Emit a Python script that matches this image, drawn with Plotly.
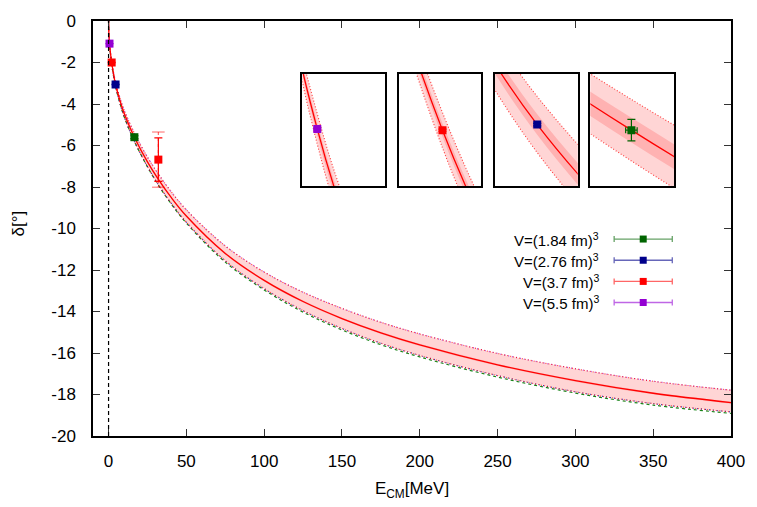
import plotly.graph_objects as go

# ---------------- data ----------------
energy = [0, 0.25, 0.6, 1, 2, 3, 4.5, 7, 10, 16.6, 25, 32, 40, 50, 75, 100,
          125, 150, 175, 200, 250, 300, 350, 400]
delta_center = [0, -0.70, -1.09, -1.41, -2.00, -2.47, -3.06, -3.75, -4.45, -5.60,
                -6.79, -7.63, -8.48, -9.40, -11.20, -12.50, -13.52, -14.34, -15.03,
                -15.61, -16.57, -17.33, -17.94, -18.39]
delta_upper = [0, -0.67, -1.04, -1.35, -1.92, -2.38, -2.95, -3.62, -4.29, -5.40,
               -6.56, -7.37, -8.20, -9.10, -10.84, -12.10, -13.07, -13.85, -14.52,
               -15.08, -16.02, -16.76, -17.36, -17.79]
delta_lower = [0, -0.73, -1.14, -1.47, -2.08, -2.56, -3.17, -3.88, -4.61, -5.80,
               -7.02, -7.89, -8.76, -9.70, -11.56, -12.90, -13.96, -14.82, -15.53,
               -16.12, -17.09, -17.87, -18.44, -18.84]
delta_lower_green = [0, -0.73, -1.14, -1.47, -2.08, -2.56, -3.17, -3.88, -4.61, -5.80,
                     -7.03, -7.91, -8.79, -9.74, -11.62, -12.96, -14.03, -14.89, -15.60,
                     -16.19, -17.16, -17.93, -18.51, -18.91]
delta_inner_upper = [0, -0.688, -1.07, -1.386, -1.97, -2.435, -3.02, -3.70, -4.39, -5.52,
                     -6.72, -7.57, -8.43, -9.35, -11.15, -12.45, -13.47, -14.29, -14.98,
                     -15.56, -16.52, -17.28, -17.89, -18.34]
delta_inner_lower = [0, -0.712, -1.11, -1.434, -2.03, -2.505, -3.10, -3.80, -4.51, -5.68,
                     -6.86, -7.69, -8.53, -9.45, -11.25, -12.55, -13.57, -14.39, -15.08,
                     -15.66, -16.62, -17.38, -17.99, -18.44]

# lattice points
point_E = [0.6, 2.0, 4.5, 16.6, 32.0]
point_delta = [-1.09, -2.00, -3.06, -5.60, -6.68]
point_E_err = [0.005, 0.01, 0.01, 0.15, 0.3]
point_delta_err = [0.003, 0.005, 0.005, 0.07, 1.05]
point_delta_err_tot = [0.0, 0.0, 0.0, 0.0, 1.33]
point_colors = ["#9400d3", "#ff0000", "#00008b", "#006400", "#ff0000"]

legend_labels = ["V=(1.84 fm)<sup>3</sup>", "V=(2.76 fm)<sup>3</sup>",
                 "V=(3.7 fm)<sup>3</sup>", "V=(5.5 fm)<sup>3</sup>"]
legend_colors = ["#006400", "#00008b", "#ff0000", "#9400d3"]
legend_line_colors = ["rgba(0,100,0,0.6)", "rgba(0,0,139,0.6)",
                      "rgba(255,0,0,0.6)", "rgba(148,0,211,0.6)"]

x_ticks = [0, 50, 100, 150, 200, 250, 300, 350, 400]
x_ticklabels = ["0", "50", "100", "150", "200", "250", "300", "350", "400"]
y_ticks = [-20, -18, -16, -14, -12, -10, -8, -6, -4, -2, 0]
y_ticklabels = ["-20", "-18", "-16", "-14", "-12", "-10", "-8", "-6", "-4", "-2", "0"]

x_title = "E<sub>CM</sub>[MeV]"
y_title = "δ[°]"

threshold_E = 0

# inset windows (E range, delta range)
inset_x_ranges = [[0.401, 1.506], [1.02, 2.87], [3.84, 5.13], [15.53, 17.71]]
inset_y_ranges = [[-1.279, -0.909], [-2.255, -1.745], [-3.302, -2.862], [-5.965, -5.235]]

# ---------------- figure ----------------
W, H = 757, 507
ML, MR, MT, MB = 93, 23, 15, 67
PW, PH = W - ML - MR, H - MT - MB
FONT = "Liberation Sans, Arial, sans-serif"

OUTER_FILL = "rgb(255,213,213)"
INNER_FILL = "rgb(255,178,178)"

fig = go.Figure()


def add_curves(xa, ya, main):
    common = dict(xaxis=xa, yaxis=ya, hoverinfo="skip", showlegend=False)
    fig.add_trace(go.Scatter(x=energy, y=delta_lower, mode="lines",
                             line=dict(width=0, shape="spline"), **common))
    fig.add_trace(go.Scatter(x=energy, y=delta_upper, mode="lines", fill="tonexty",
                             fillcolor=OUTER_FILL,
                             line=dict(width=0, shape="spline"), **common))
    fig.add_trace(go.Scatter(x=energy, y=delta_inner_lower, mode="lines",
                             line=dict(width=0, shape="spline"), **common))
    fig.add_trace(go.Scatter(x=energy, y=delta_inner_upper, mode="lines", fill="tonexty",
                             fillcolor=INNER_FILL,
                             line=dict(width=0, shape="spline"), **common))
    if main:
        fig.add_trace(go.Scatter(x=energy, y=delta_lower_green, mode="lines",
                                 line=dict(width=1.2, color="rgba(0,120,0,0.9)", dash="dot", shape="spline"),
                                 **common))
        fig.add_trace(go.Scatter(x=energy, y=delta_lower, mode="lines",
                                 line=dict(width=1.2, color="rgba(0,0,160,0.8)", dash="1px,3px", shape="spline"),
                                 **common))
        fig.add_trace(go.Scatter(x=energy, y=delta_upper, mode="lines",
                                 line=dict(width=1.2, color="rgba(148,0,211,0.7)", dash="1px,3px", shape="spline"),
                                 **common))
    fig.add_trace(go.Scatter(x=energy, y=delta_lower, mode="lines",
                             line=dict(width=1.1, color="rgba(255,0,0,0.75)", dash="1px,2px", shape="spline"),
                             **common))
    fig.add_trace(go.Scatter(x=energy, y=delta_upper, mode="lines",
                             line=dict(width=1.1, color="rgba(255,0,0,0.75)", dash="1px,2px", shape="spline"),
                             **common))
    fig.add_trace(go.Scatter(x=energy, y=delta_center, mode="lines",
                             line=dict(width=1.3, color="#ff0000", shape="spline"), **common))
    # points
    for i in range(len(point_E)):
        if point_delta_err_tot[i] > 0:
            fig.add_trace(go.Scatter(
                x=[point_E[i], point_E[i]],
                y=[point_delta[i] + point_delta_err_tot[i], point_delta[i] - point_delta_err_tot[i]],
                mode="lines+markers",
                line=dict(width=1.2, color="rgba(255,0,0,0.6)", dash="dot"),
                marker=dict(symbol="line-ew", size=9,
                            line=dict(width=1.2, color="rgba(255,0,0,0.5)")),
                **common))
        fig.add_trace(go.Scatter(
            x=[point_E[i]], y=[point_delta[i]], mode="markers",
            marker=dict(symbol="square", size=8, color=point_colors[i]),
            error_x=dict(type="data", array=[point_E_err[i]], color=point_colors[i],
                         thickness=1.2, width=3),
            error_y=dict(type="data", array=[point_delta_err[i]], color=point_colors[i],
                         thickness=1.2, width=4),
            **common))


add_curves("x", "y", True)

# insets: box positions in pixels (left, right, top, bottom)
inset_boxes = [(303.3, 386.7, 69.3, 184.3), (400.0, 483.3, 69.3, 184.3),
               (496.7, 580.0, 69.3, 184.3), (592.7, 676.7, 69.3, 184.3)]
for k, (l, r, t, b) in enumerate(inset_boxes):
    n = k + 2
    xd = [(l - ML) / PW, (r - ML) / PW]
    yd = [(MT + PH - b) / PH, (MT + PH - t) / PH]
    fig.update_layout(**{
        f"xaxis{n}": dict(domain=xd, anchor=f"y{n}", range=inset_x_ranges[k],
                          showticklabels=False, ticks="", showgrid=False, zeroline=False,
                          showline=True, linecolor="black", linewidth=1.5, mirror=True),
        f"yaxis{n}": dict(domain=yd, anchor=f"x{n}", range=inset_y_ranges[k],
                          showticklabels=False, ticks="", showgrid=False, zeroline=False,
                          showline=True, linecolor="black", linewidth=1.5, mirror=True),
    })
    add_curves(f"x{n}", f"y{n}", False)

# custom legend (text right-aligned, sample to its right) on an overlay axis
legend_rows_px = [238.3, 260.0, 281.7, 303.3]
legend_marker_px = 645.8
legend_half_px = 29.2
legend_text_px = 603
annotations = []
for i, lab in enumerate(legend_labels):
    yy = (MT + PH - legend_rows_px[i]) / PH
    fig.add_trace(go.Scatter(
        x=[(legend_marker_px - ML) / PW], y=[yy], xaxis="x6", yaxis="y6",
        mode="markers", hoverinfo="skip", showlegend=False,
        marker=dict(symbol="square", size=7, color=legend_colors[i]),
        error_x=dict(type="data", array=[legend_half_px / PW], color=legend_line_colors[i],
                     thickness=1.3, width=3)))
    annotations.append(dict(x=(legend_text_px - ML) / PW, y=yy, xref="paper", yref="paper",
                            text=lab, showarrow=False, xanchor="right", yanchor="middle",
                            font=dict(family=FONT, size=15, color="black")))

# y-axis title as rotated annotation placed left of the tick labels
annotations.append(dict(x=(18 - ML) / PW, y=(MT + PH - 222) / PH, xref="paper", yref="paper",
                        text=y_title, textangle=-90, showarrow=False,
                        xanchor="center", yanchor="middle",
                        font=dict(family=FONT, size=17, color="black")))

fig.add_vline(x=threshold_E, line=dict(color="black", width=1.2, dash="4px,3px"), layer="above")

axis_common = dict(ticks="inside", ticklen=7, tickwidth=1, tickcolor="#333",
                   showline=True, linecolor="black", linewidth=1.5, mirror="ticks",
                   showgrid=False, zeroline=False,
                   tickfont=dict(family=FONT, size=17, color="black"))

fig.update_layout(
    width=W, height=H,
    margin=dict(l=ML, r=MR, t=MT, b=MB, pad=0),
    paper_bgcolor="white", plot_bgcolor="white",
    font=dict(family=FONT, size=16, color="black"),
    showlegend=False,
    annotations=annotations,
    xaxis=dict(domain=[0, 1], range=[-10, 400], tickvals=x_ticks, ticktext=x_ticklabels,
               ticklabelstandoff=9,
               title=dict(text=x_title, standoff=12,
                          font=dict(family=FONT, size=17)),
               **axis_common),
    yaxis=dict(domain=[0, 1], range=[-20, 0], tickvals=y_ticks, ticktext=y_ticklabels,
               ticklabelstandoff=12,
               **axis_common),
    xaxis6=dict(overlaying="x", range=[0, 1], visible=False, anchor="y6"),
    yaxis6=dict(overlaying="y", range=[0, 1], visible=False, anchor="x6"),
)

fig.write_html("out.html", config={"displayModeBar": False},
               post_script="document.body.style.margin='0';document.body.style.overflow='hidden';")
